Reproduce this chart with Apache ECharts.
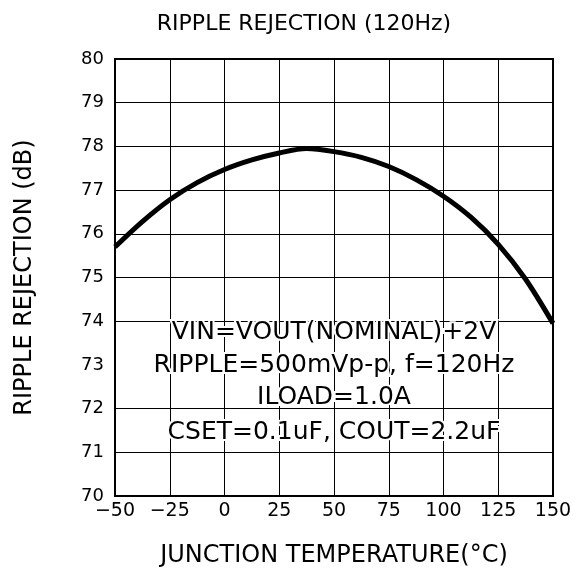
<!DOCTYPE html>
<html>
<head>
    <meta charset="utf-8">
    <title>Ripple Rejection</title>
    <script src="https://cdn.jsdelivr.net/npm/echarts@6/dist/echarts.min.js"></script>
</head>
<body style="margin:0;">
<div id="main" style="width:579px;height:573px;"></div>
<script type="text/javascript">
    // data
    const temps = [-50, -37.5, -25, -12.5, 0, 12.5, 25, 37.5, 50, 62.5, 75, 87.5, 100, 112.5, 125, 137.5, 150];
    const rejection = [75.70, 76.28, 76.78, 77.17, 77.47, 77.69, 77.85, 77.95, 77.88, 77.75, 77.54, 77.24, 76.86, 76.38, 75.76, 74.96, 73.95];
    const notes = [
        'VIN=VOUT(NOMINAL)+2V',
        'RIPPLE=500mVp-p, f=120Hz',
        'ILOAD=1.0A',
        'CSET=0.1uF, COUT=2.2uF'
    ];

    const myChart = echarts.init(document.getElementById('main'));
    const font = 'DejaVu Sans';

    // note lines sit over the grid, white outline breaks the lines behind the glyphs
    const noteY = [332, 365, 397, 432];
    const noteText = notes.map(function (t, i) {
        return {
            type: 'text',
            x: 334,
            y: noteY[i],
            z: 10,
            style: {
                text: t,
                fill: '#000',
                font: '25px "' + font + '"',
                align: 'center',
                verticalAlign: 'middle',
                stroke: '#fff',
                lineWidth: 4
            }
        };
    });

    // the 73 dB line is hidden behind the notes in the original
    const hLineColors = ['#000', '#000', '#000', 'rgba(0,0,0,0)', '#000', '#000', '#000', '#000', '#000', '#000', '#000'];

    const option = {
        backgroundColor: '#fff',
        animation: false,
        title: {
            text: 'RIPPLE REJECTION (120Hz)',
            left: 299,
            top: 8,
            textAlign: 'center',
            textStyle: {fontFamily: font, fontSize: 22, fontWeight: 'normal', color: '#000'}
        },
        grid: {
            left: 115, right: 26, top: 59, bottom: 77,
            outerBoundsMode: 'none',
            show: true, borderColor: '#000', borderWidth: 2
        },
        xAxis: {
            type: 'value',
            min: -50, max: 150, interval: 25,
            name: 'JUNCTION TEMPERATURE(°C)',
            nameLocation: 'middle',
            nameGap: 48,
            nameTextStyle: {fontFamily: font, fontSize: 24, color: '#000'},
            axisLine: {show: false},
            axisTick: {show: false},
            axisLabel: {
                fontFamily: font, fontSize: 19, color: '#000', margin: 6,
                formatter: function (v) { return String(v).replace('-', '\u2212'); }
            },
            splitLine: {show: true, lineStyle: {color: '#000', width: 1}}
        },
        yAxis: {
            type: 'value',
            min: 70, max: 80, interval: 1,
            name: 'RIPPLE REJECTION (dB)',
            nameLocation: 'middle',
            nameGap: 78,
            nameTextStyle: {fontFamily: font, fontSize: 24, color: '#000'},
            axisLine: {show: false},
            axisTick: {show: false},
            axisLabel: {fontFamily: font, fontSize: 18, color: '#000', margin: 11},
            splitLine: {show: true, lineStyle: {color: hLineColors, width: 1}}
        },
        graphic: noteText,
        series: [{
            type: 'line',
            data: temps.map(function (t, i) { return [t, rejection[i]]; }),
            smooth: 0.3,
            showSymbol: false,
            lineStyle: {color: '#000', width: 5}
        }]
    };

    myChart.setOption(option);
</script>
</body>
</html>
